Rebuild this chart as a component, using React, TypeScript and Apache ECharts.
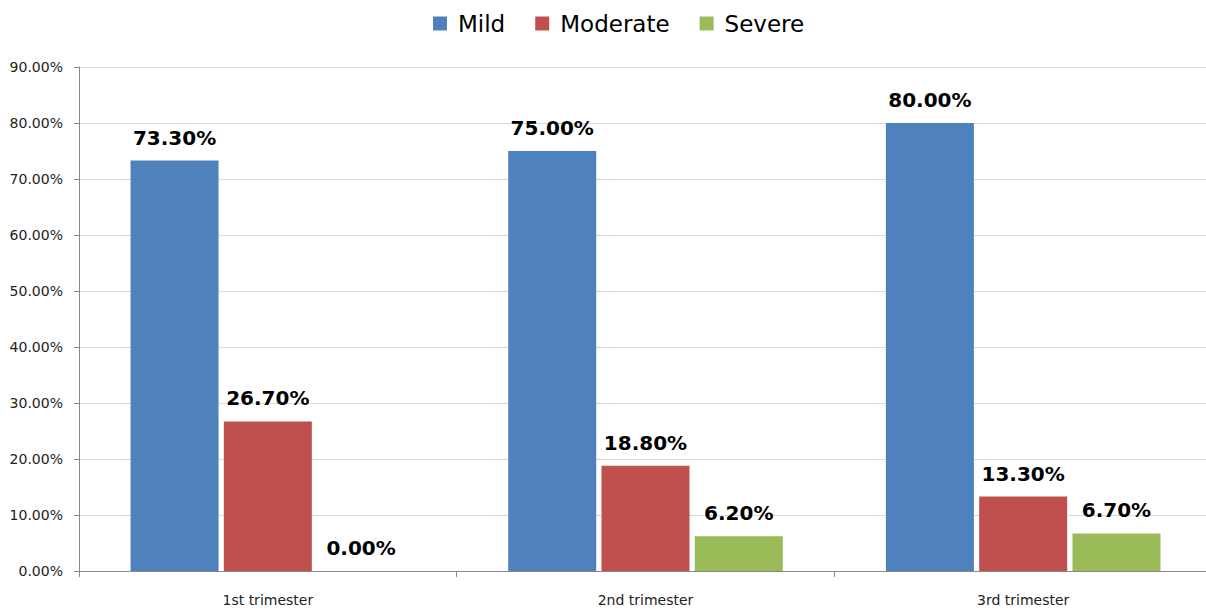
import React, { useEffect, useRef } from "react";
import * as echarts from "echarts";

const categories = ["1st trimester", "2nd trimester", "3rd trimester"];
const mild = [73.3, 75.0, 80.0];
const moderate = [26.7, 18.8, 13.3];
const severe = [0.0, 6.2, 6.7];
const seriesNames = ["Mild", "Moderate", "Severe"];
const colors = ["#4F81BD", "#C0504D", "#9BBB59"];

export default function App() {
  const ref = useRef<HTMLDivElement>(null);
  useEffect(() => {
    const chart = echarts.init(ref.current!, null, { renderer: "svg" });
    const fmt = (v: number) => v.toFixed(2) + "%";
    const mk = (name: string, data: number[], color: string) => ({
      name,
      type: "bar",
      data,
      barWidth: 88,
      barGap: "6%",
      itemStyle: { color },
      label: {
        show: true,
        position: "top",
        distance: 13,
        formatter: (p: any) => fmt(p.value),
        fontFamily: "DejaVu Sans",
        fontWeight: "bold",
        fontSize: 20,
        color: "#000",
      },
    });
    chart.setOption({
      animation: false,
      color: colors,
      legend: {
        top: 7,
        left: 428,
        data: seriesNames,
        icon: "rect",
        itemWidth: 14,
        itemHeight: 14,
        itemGap: 30,
        textStyle: {
          fontFamily: "DejaVu Sans",
          fontSize: 23,
          color: "#000",
          padding: [0, 0, 0, 6],
        },
      },
      grid: { left: 79, right: 0, top: 67, bottom: 41, containLabel: false },
      xAxis: {
        type: "category",
        data: categories,
        axisLine: { lineStyle: { color: "#888" } },
        axisTick: { show: true, length: 6, alignWithLabel: false, lineStyle: { color: "#888" } },
        axisLabel: { fontFamily: "DejaVu Sans", fontSize: 14, color: "#222", margin: 22 },
      },
      yAxis: {
        type: "value",
        min: 0,
        max: 90,
        interval: 10,
        axisLine: { show: true, lineStyle: { color: "#888" } },
        axisTick: { show: true, length: 5, lineStyle: { color: "#888" } },
        splitLine: { lineStyle: { color: "#d9d9d9" } },
        axisLabel: {
          formatter: (v: number) => fmt(v),
          fontFamily: "DejaVu Sans",
          fontSize: 14,
          color: "#222",
          margin: 16,
        },
      },
      series: [
        mk(seriesNames[0], mild, colors[0]),
        mk(seriesNames[1], moderate, colors[1]),
        mk(seriesNames[2], severe, colors[2]),
      ],
    });
    return () => chart.dispose();
  }, []);
  return (
    <div
      style={{
        position: "absolute",
        left: 0,
        top: 0,
        width: 1206,
        height: 612,
        overflow: "hidden",
        background: "#fff",
      }}
    >
      <div ref={ref} style={{ width: 1212, height: 612 }} />
    </div>
  );
}
